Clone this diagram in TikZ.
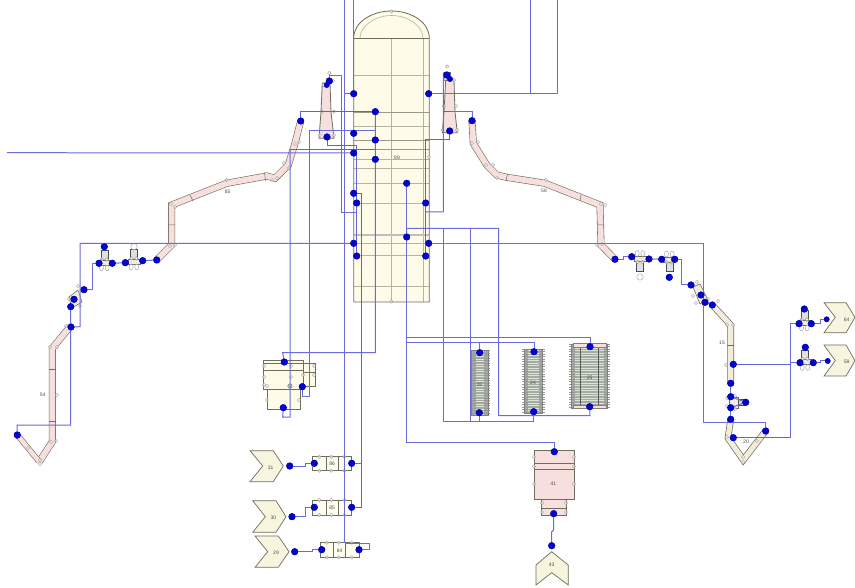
\documentclass[tikz,border=0pt]{standalone}
\usepackage{fontspec}
\setmainfont{Liberation Sans}
\definecolor{wirec}{rgb}{0.42,0.42,0.86}
\definecolor{wired}{rgb}{0.38,0.38,0.84}
\definecolor{portc}{HTML}{0505C4}
\definecolor{cream}{HTML}{FEFCE8}
\definecolor{chev}{HTML}{F8F5DF}
\definecolor{pinkf}{HTML}{F7DFDD}
\definecolor{beigef}{HTML}{F2ECDD}
\definecolor{edgec}{HTML}{6E6E5E}
\definecolor{gridc}{HTML}{B4B4A0}
\definecolor{hxf}{HTML}{A3ABA0}
\definecolor{hxs}{HTML}{DCE4D8}
\tikzset{
  wire/.style={color=wirec,line width=1pt},
  wirek/.style={color=wired,line width=1pt},
  port/.style={circle,fill=portc,inner sep=0pt,minimum size=7pt},
  portb/.style={circle,fill=portc,inner sep=0pt,minimum size=5.6pt},
  nub/.style={draw=gray!80,fill=white,fill opacity=.6,line width=.4pt},
  lab/.style={font=\fontsize{5}{6}\selectfont,text=black!70,inner sep=0pt},
  shell/.style={draw=edgec,line width=.8pt},
  grid/.style={draw=gridc,line width=.6pt},
  chevron/.style={draw=edgec,fill=chev,line width=.7pt,line join=miter},
  dryerpink/.style={draw=edgec,line width=.6pt,double=pinkf,double distance=5.8pt,line join=miter},
  dryerbeige/.style={draw=edgec,line width=.7pt,double=beigef,double distance=5.2pt,line join=miter}
}
\newcommand\prt[2]{\node[port] (#1) at (#2) {};}
\newcommand\nb[2]{\draw[nub] (#1,#2) ellipse (1.7 and 1.7);}
\newcommand\hxer[5]{% x0 y0 x1 y1 second y
  \fill[hxf] (#1,#2) rectangle (#3,#4);
  \foreach \yy in {#2,#5,...,#4}{
    \draw[gray!80,line width=.6pt] (#1-2,\yy) -- (#1+4,\yy);
    \draw[gray!80,line width=.6pt] (#3-4,\yy) -- (#3+2,\yy);
  }
  \foreach \yy in {#2,#5,...,#4}{
    \draw[hxs,line width=.5pt] (#1+4,\yy+1) -- (#3-4,\yy+1);
  }
  \draw[gray,line width=.5pt] (#1,#2) rectangle (#3,#4);
}
\newcommand\valvebody[3]{% x y dir(1 box above, -1 box below)
  \draw[draw=black!70,fill=gray!25,line width=.5pt] (#1-3.5,#2-#3*12) rectangle (#1+3.5,#2);
  \draw[draw=gray!85!black,fill=beigef,line width=.5pt] (#1-6,#2-2.5) rectangle (#1+6,#2+2.5);
  \draw[nub] (#1-2.8,#2+#3*5.5) ellipse (2 and 3);
  \draw[nub] (#1+2.8,#2+#3*5.5) ellipse (2 and 3);
  \draw[nub] (#1-2.5,#2-#3*3) ellipse (1.8 and 1.8);
  \draw[nub] (#1+2.5,#2-#3*3) ellipse (1.8 and 1.8);
}
\newcommand\blockb[5]{% x0 y0 x1 y1 label
  \draw[shell,fill=cream!70!white] (#1,#2) rectangle (#3,#4);
  \draw[edgec,line width=.5pt] (#1+13.3,#2) -- (#1+13.3,#4) (#1+25.5,#2) -- (#1+25.5,#4);
  \foreach \xx in {6.7,18.7,31.7}{\nb{#1+\xx}{#2}\nb{#1+\xx}{#4}}
  \node[lab] at ({(#1+#3)/2},{(#2+#4)/2+.5}) {#5};
}
\begin{document}
\begin{tikzpicture}[x=1pt,y=-1pt]
\useasboundingbox (0,0) rectangle (855,588);
\fill[white] (0,0) rectangle (855,588);

% ---------- silo
\path[fill=cream] (353.7,302) -- (353.7,38) .. controls (353.7,22) and (372,11) .. (391.5,11) .. controls (411,11) and (429.3,22) .. (429.3,38) -- (429.3,302) -- cycle;
\draw[grid] (360,38) .. controls (360,26) and (375,15.5) .. (391.5,15.5) .. controls (408,15.5) and (423,26) .. (423,38);
\draw[grid] (391,38) -- (391,302);
\draw[grid] (423,38) -- (423,302);
\foreach \yy in {75,126,168,183,203,255,286}{\draw[grid] (353.7,\yy) -- (429.3,\yy);}
\draw[draw=edgec!70,line width=.6pt] (353.7,112) -- (429.3,112) (353.7,140) -- (429.3,140) (353.7,149) -- (429.3,149);
\draw[grid] (353.7,159) -- (429.3,159);
\draw[draw=gray!50,line width=1.5pt] (353.7,235) -- (429.3,235);
\draw[grid] (353.7,243) -- (429.3,243);
\draw[draw=edgec,line width=.9pt] (353.7,38) -- (429.3,38);
\draw[shell] (353.7,302) -- (353.7,38) .. controls (353.7,22) and (372,11) .. (391.5,11) .. controls (411,11) and (429.3,22) .. (429.3,38) -- (429.3,302) -- cycle;
\nb{391.3}{11.5}\nb{391.3}{301.5}\nb{429}{157}
\node[lab] (silolab) at (397,158) {89};

% ---------- cyclones near silo
\draw[shell,fill=pinkf] (322.3,83) -- (330,83) -- (331,112) -- (334,138.3) -- (319,138.3) -- (321,112) -- cycle;
\draw[edgec,line width=.5pt] (321,111.7) -- (331.7,111.7);
\nb{329.3}{73}\nb{323.5}{85}\nb{333}{81}\nb{322}{111.7}\nb{334}{111.7}\nb{320}{135}\nb{334}{135}
\draw[shell,fill=pinkf] (445.7,80) -- (454,80) -- (455,112) -- (457.3,132.7) -- (442.3,132.7) -- (444,112) -- cycle;
\draw[edgec,line width=.5pt] (444,111.7) -- (455,111.7);
\draw[draw=edgec,fill=gray!40,line width=.5pt] (444,72) rectangle (450,80);
\nb{447}{66.7}\nb{445}{79}\nb{454}{80}\nb{444}{106}\nb{456}{106}\nb{442.5}{130}\nb{457}{130}

% ---------- dryers
\draw[dryerpink] (300.7,121) -- (295,143.3) -- (288.3,165) -- (275,178.3) -- (266.7,176) -- (226.7,183.3) -- (171.7,205) -- (171.7,245) -- (156.7,260);
\draw[edgec,line width=.5pt] (264.5,172.5) -- (265.5,181) (190,195) -- (193,201) (168,225) -- (175,225);
\foreach \a/\b in {295/144,299/142,284/163,289/168,277/178,272/180,226.7/180,171/204,175/207,170/246,175/245}{\nb{\a}{\b}}
\node[lab] (lab58l) at (227.7,191.7) {85};
\draw[dryerpink] (472,120.7) -- (473.3,143.3) -- (486.7,165) -- (496.7,175) -- (506.7,177.3) -- (545,183.3) -- (600,205) -- (601,245) -- (615,259.3);
\draw[edgec,line width=.5pt] (507.5,174) -- (506,181) (581,195) -- (580,201) (598,225) -- (604,225);
\foreach \a/\b in {472/143,478/142,486/165,493/165,497/178,546/180,601/204,605/205,597/245,602/244}{\nb{\a}{\b}}
\node[lab] (lab58r) at (544,191) {58};

\draw[dryerpink] (70,326.7) -- (52.3,348.3) -- (52.3,441.7) -- (39.3,461.7);
\draw[draw=edgec,line width=.6pt,double=pinkf,double distance=4.5pt] (39.3,461.7) -- (17.3,435);
\draw[edgec,line width=.5pt] (49,369) -- (56,369) (49,421) -- (56,421);
\foreach \a/\b in {50/347,57/347,66/326,51/442,56/441,40/464,40/460,28/448,57/395}{\nb{\a}{\b}}
\node[lab] (lab54) at (42.7,395) {54};

\draw[dryerbeige] (712.3,305) -- (730.7,325) -- (730.7,383.3);
\draw[edgec,line width=.5pt] (727,345) -- (734,345);
\foreach \a/\b in {718/301,727/325,733/325,726/365}{\nb{\a}{\b}}
\node[lab] (lab15) at (722,343) {15};
\draw[dryerbeige] (730.7,419.3) -- (728,438) -- (743.3,460) -- (765,431.7);
\foreach \a/\b in {727/437,743/462,743/457,764/430,757/441}{\nb{\a}{\b}}
\node[lab] (lab20) at (746,441.7) {20};

% ---------- small cyclones on the long lines
\draw[draw=edgec,fill=beigef,line width=.6pt] (69,297) -- (78,290) -- (82,302) -- (72,308) -- cycle;
\nb{78}{286}\nb{69}{299}\nb{80}{306}\nb{72}{308}
\draw[draw=edgec,fill=beigef,line width=.6pt] (693,287) -- (700,284) -- (708,300) -- (700,304) -- cycle;
\nb{697}{282}\nb{693}{296}\nb{708}{299}\nb{696}{303}

% ---------- valves
\valvebody{104.3}{262.5}{1}
\valvebody{134}{261.5}{1}
\valvebody{640}{259}{-1}
\valvebody{669.3}{259.5}{-1}
\valvebody{804.3}{322.5}{1}
\valvebody{805}{362}{1}
\draw[draw=gray!85!black,fill=beigef,line width=.5pt] (729,397) rectangle (738,408);
\draw[draw=black!70,fill=gray!30,line width=.5pt] (738,399.5) rectangle (745,405.5);
\nb{727}{398}\nb{727}{406}\nb{735}{396}\nb{735}{409}
\draw[nub] (134,246.7) ellipse (3.2 and 3.2);
\draw[nub] (640,277) ellipse (3.2 and 3.2);

% ---------- heat exchangers
\hxer{471.7}{350.7}{488.3}{415}{353.2}
\hxer{524.3}{349.3}{542.7}{413.3}{351.8}
\hxer{571}{344.3}{607.7}{408.3}{346.8}
\draw[gray!70!black,line width=.4pt] (580,344.3) -- (580,408.3) (598,344.3) -- (598,408.3);
\draw[draw=gray,fill=pinkf,line width=.4pt] (573,343.5) rectangle (606,347);
\draw[draw=gray,fill=pinkf,line width=.4pt] (573,405) rectangle (606,408.5);
\node[lab] (hxa) at (479.3,384.3) {26};
\node[lab] (hxb) at (533,382.7) {24};
\node[lab] (hxc) at (589.7,377.7) {25};

% ---------- block 41
\draw[shell,fill=pinkf] (541.7,499.3) rectangle (566,515);
\draw[edgec,line width=.5pt] (541.7,508) -- (566,508);
\draw[shell,fill=pinkf] (534,450) rectangle (574,499.3);
\draw[edgec,line width=.6pt] (534,463.3) -- (574,463.3) (534,469.3) -- (574,469.3);
\foreach \a/\b in {534/457,574/457,534/466.5,574/466.5,534/484,574/484,542/503,566/503,542/512,566/512}{\nb{\a}{\b}}
\node[lab] (b41) at (553.3,484) {41};

% ---------- flash vessel
\draw[shell,fill=cream] (303.3,363.3) rectangle (315,386.7);
\draw[shell,fill=cream] (267.3,389.3) rectangle (300,409.3);
\draw[shell,fill=cream] (263.3,360.7) rectangle (303.3,389.3);
\draw[edgec,line width=.6pt] (263.3,363.5) -- (303.3,363.5) (263.3,370.7) -- (303.3,370.7);
\draw[edgec,line width=.4pt] (303.3,372) -- (315,372);
\foreach \a/\b in {264/366,264/377,291/366,291/377,267/386,290/386,267/400,299/400,303/375,314/375,314/366,264/385}{\nb{\a}{\b}}
\draw[draw=gray,fill=gray!50,line width=.4pt] (290,386) circle (2.3);

% ---------- chevrons
\draw[chevron] (250,450.7) -- (273.3,450.7) -- (283.3,466) -- (273.3,481.7) -- (250,481.7) -- (262.7,466) -- cycle;
\draw[chevron] (252.7,500.7) -- (276,500.7) -- (286,516.7) -- (276,532.3) -- (252.7,532.3) -- (265.3,516.7) -- cycle;
\draw[chevron] (255,536) -- (278.3,536) -- (289,551.7) -- (278.3,567.3) -- (255,567.3) -- (267.7,551.7) -- cycle;
\draw[chevron] (824,302.7) -- (846,302.7) -- (855,317.3) -- (846,332.7) -- (824,332.7) -- (835.3,317.3) -- cycle;
\draw[chevron] (824,345) -- (846,345) -- (855,360.7) -- (846,376) -- (824,376) -- (835.3,360.7) -- cycle;
\draw[chevron] (551.7,551.7) -- (568.3,565) -- (568.3,585) -- (551.7,572.7) -- (536,585) -- (536,565) -- cycle;
\node[lab] (c31) at (270.7,467.3) {31};
\node[lab] (c30) at (273.3,517.7) {30};
\node[lab] (c29) at (276,552.7) {29};
\node[lab] (c64) at (846.7,320) {64};
\node[lab] (c58) at (846.7,362) {58};
\node[lab] (c43) at (551.7,565) {43};

% ---------- blocks 84-86
\blockb{312.7}{456.7}{351.7}{470.7}{86}
\blockb{312.7}{500}{351.7}{515}{85}
\blockb{320}{542.7}{359.3}{557.3}{84}

% ---------- named ports
\prt{sa}{353.7,93.7}\prt{sb}{428.7,93.7}\prt{sc}{375.3,111.7}\prt{sd}{353.7,133.3}
\prt{se}{375.3,140}\prt{sf}{353.7,153}\prt{sg}{375.3,159.3}\prt{sh}{406.7,183.3}
\prt{si}{353.7,193.3}\prt{sj}{356.7,203}\prt{sk}{425.7,203}\prt{sl}{353.7,243.3}
\prt{sm}{428.7,243.3}\prt{sn}{406.7,237}\prt{so}{356.7,256}\prt{sp}{425.7,256}
\prt{lcA}{329.3,81}\node[portb] (lcB) at (326.7,85) {};\prt{lcC}{327,137}
\prt{rcA}{446.7,75}\node[portb] (rcB) at (450,79) {};\prt{rcC}{449.7,131}
\prt{dl}{300.7,121}\prt{dr}{472,120.7}
\prt{dlb}{156.7,260}\prt{drb}{615,259.3}
\prt{va}{99,263.3}\prt{vb}{112.3,263.3}\prt{vc}{104.3,246.7}
\prt{vd}{125.3,262.7}\prt{ve}{142.7,260.7}
\prt{ca}{84,289.7}\prt{cb}{74,299.3}\prt{cc}{70.7,306.7}\prt{cd}{71,327}
\prt{ce}{17.3,435}
\prt{ra}{631.7,256.7}\prt{rb}{649,259}\prt{rc}{661.7,259.3}\prt{rd}{674.7,259.3}\prt{re}{669.3,277.3}
\prt{rf}{691,285}\prt{rg}{701,295}\prt{rh}{705,302.3}\prt{ri}{712.3,305}
\prt{rj}{733.3,364.3}\prt{rk}{730.7,383.3}\prt{rl}{730.7,396.7}\prt{rm}{730.7,407.7}
\prt{rn}{745.7,402.3}\prt{ro}{730.7,419.3}\prt{rp}{765.7,431}\prt{rq}{733.3,437.7}
\prt{ta}{799,323.7}\prt{tb}{811.3,323.7}\prt{tc}{804.3,309}\node[portb] (td) at (826.7,319.3) {};
\prt{tf}{800,362.7}\prt{tg}{813.3,362.7}\prt{th}{805.3,347.3}\node[portb] (ti) at (827.7,361) {};
\prt{ha}{479.7,352.7}\prt{hb}{479.3,412.7}\prt{hc}{534,351.7}\prt{hd}{533.7,411.7}
\prt{he}{590,346.7}\prt{hf}{589.7,406.7}
\prt{ba}{554.3,451.7}\prt{bb}{553.7,513.7}\prt{bc}{551.7,545.7}
\prt{fa}{284.3,362}\prt{fb}{283.3,407.7}\prt{fc}{302.3,386.7}
\prt{p31}{289.7,466}\prt{p30}{292,516.7}\prt{p29}{294.7,551.7}
\prt{k86a}{314.3,463.3}\prt{k86b}{351.7,463.3}
\prt{k85a}{314.3,507.3}\prt{k85b}{351.7,507.3}
\prt{k84a}{321.7,549.7}\prt{k84b}{359,549.7}

% ---------- free ends
\coordinate (topA) at (344.7,0);
\coordinate (topB) at (353.7,0);
\coordinate (topC) at (530.7,0);
\coordinate (topD) at (557.7,0);
\coordinate (leftE) at (7,152.7);

% ---------- connectors
\draw[wire] (topB) -- (sa.center);
\draw[wire] (topA) -- (344.7,543) (344.7,93.7) -- (sa.center);
\draw[wire] (sb.center) -- (557.7,93.7) -- (topD) (530.7,93.7) -- (topC);
\draw[wirek] (dl.center) -- (300.7,111.7) -- (sc.center);
\draw[wire] (sc.center) -- (375.3,352.7) -- (282.7,352.7) -- (fa.center);
\draw[wire] (lcA.center) -- (329.3,76) -- (341.3,76) -- (341.3,212.7) -- (356.7,212.7) -- (sj.center);
\draw[wirek] (lcC.center) -- (327,145.7) -- (356.7,145.7) -- (so.center);
\draw[wire] (375.3,131) -- (309,131) -- (309,396) -- (302.3,396) -- (fc.center);
\draw[wire] (leftE) -- (sf.center);
\draw[wirek] (290,150) -- (375.3,150);
\draw[wire] (290,150) -- (290,417) -- (282.7,417) -- (fb.center);
\draw[wirek] (si.center) -- (361,193.3) -- (361,507.3) -- (k85b.center);
\draw[wire] (k86b.center) -- (361,463.3);
\draw[wire] (sl.center) -- (80,243.3) -- (80,326.7) -- (cd.center);
\draw[wire] (sm.center) -- (703.7,243.3) -- (703.7,422.7) -- (765.7,422.7) -- (rp.center);
\draw[wire] (sh.center) -- (406.7,442.3) -- (554.3,442.3) -- (ba.center);
\draw[wire] (406.7,337.3) -- (590,337.3) -- (he.center);
\draw[wire] (406.7,342.7) -- (534,342.7) -- (hc.center) (479.7,342.7) -- (ha.center);
\draw[wire] (sn.center) -- (406.7,228.3) -- (498.5,228.3) -- (498.5,415.7) -- (590,415.7) -- (hf.center);
\draw[wire] (443.3,228.3) -- (443.3,421.7) -- (533.7,421.7) -- (hd.center);
\draw[wire] (470,228.3) -- (470,421.7) (479.3,421.7) -- (hb.center);
\draw[wirek] (sk.center) -- (425.7,140) -- (449.7,140) -- (rcC.center);
\draw[wirek] (425.7,203) -- (sp.center);
\draw[wire] (rcA.center) -- (443.3,73) -- (443.3,212) -- (425.7,212);
\draw[wire] (451,111.7) -- (472,111.7) -- (dr.center);
\draw[wire] (ca.center) -- (92.7,289.7) -- (92.7,263.3) -- (va.center);
\draw[wire] (cc.center) -- (70.7,425) -- (17,425) -- (ce.center);
\draw[wire] (vb.center) -- (vd.center);
\draw[wire] (ve.center) -- (dlb.center);
\draw[wire] (drb.center) -- (623,259.3) -- (623,256.7) -- (ra.center);
\draw[wire] (rb.center) -- (rc.center);
\draw[wire] (rd.center) -- (681.7,259.3) -- (681.7,285) -- (rf.center);
\draw[wire] (ri.center) -- (rh.center);
\draw[wirek] (rj.center) -- (790.7,364.3);
\draw[wire] (ta.center) -- (790.7,323.7) -- (790.7,437.7);
\draw[wirek] (rq.center) -- (790.7,437.7);
\draw[wire] (790.7,362.7) -- (tf.center);
\draw[wire] (tb.center) -- (820,323.7) -- (820,319.3) -- (td.center);
\draw[wire] (tg.center) -- (820,362.7) -- (820,361) -- (ti.center);
\draw[wire] (rk.center) -- (rl.center) (rm.center) -- (ro.center);
\draw[wire] (rl.center) -- (rn.center) (rm.center) -- (rn.center);
\draw[wire] (bb.center) -- (553.7,530) -- (551.7,532) -- (bc.center);
\draw[wire] (p31.center) -- (305,466) -- (305,463.3) -- (k86a.center);
\draw[wire] (p30.center) -- (305,516.7) -- (305,507.3) -- (k85a.center);
\draw[wire] (p29.center) -- (312,551.7) -- (312,549.7) -- (k84a.center);
\draw[wire] (k84b.center) -- (369,549.7) -- (369,543) -- (344.7,543);
% ports again above the connectors
\foreach \p in {sa,sb,sc,sd,se,sf,sg,sh,si,sj,sk,sl,sm,sn,so,sp,lcA,lcC,rcA,rcC,dl,dr,dlb,drb,va,vb,vc,vd,ve,ca,cb,cc,cd,ce,ra,rb,rc,rd,re,rf,rg,rh,ri,rj,rk,rl,rm,rn,ro,rp,rq,ta,tb,tc,tf,tg,th,ha,hb,hc,hd,he,hf,ba,bb,bc,fa,fb,fc,p31,p30,p29,k86a,k86b,k85a,k85b,k84a,k84b}{
  \node[port] at (\p.center) {};
}
\foreach \p in {td,ti,lcB,rcB}{\node[portb] at (\p.center) {};}
\end{tikzpicture}
\end{document}
